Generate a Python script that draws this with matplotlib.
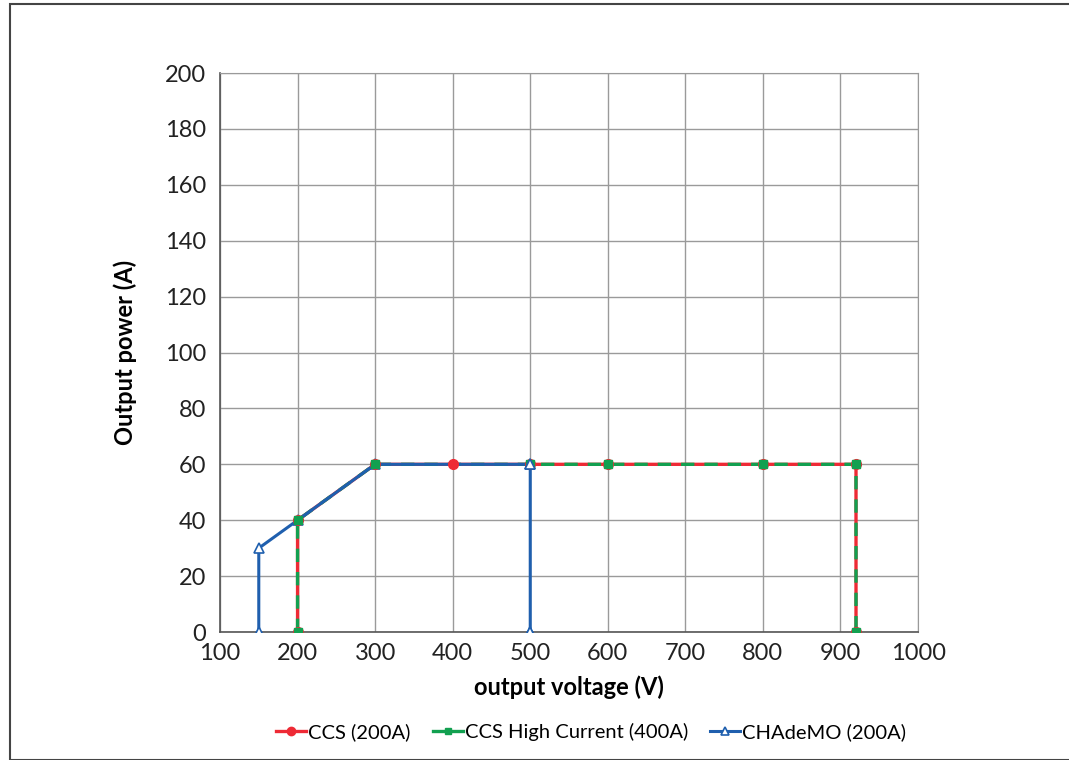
import matplotlib.pyplot as plt
from matplotlib.patches import Rectangle

plt.rcParams['font.family'] = ['Lato', 'DejaVu Sans']

# Данные
ccs_v = [200, 200, 300, 400, 500, 600, 800, 920, 920]
ccs_a = [0, 40, 60, 60, 60, 60, 60, 60, 0]
hc_v = [200, 200, 300, 500, 600, 800, 920, 920]
hc_a = [0, 40, 60, 60, 60, 60, 60, 0]
chademo_v = [150, 150, 200, 300, 500, 500]
chademo_a = [0, 30, 40, 60, 60, 0]

red = '#ee2a35'
green = '#12a050'
blue = '#1f5fae'

fig = plt.figure(figsize=(10.69, 7.6), dpi=100)
ax = fig.add_axes([0.2058, 0.1684, 0.653, 0.7355])

# линии
ax.plot(ccs_v, ccs_a, color=red, lw=2.4, zorder=3)
ax.plot(hc_v, hc_a, color=green, lw=2.4, ls=(0, (4, 3)), zorder=4)
ax.plot(chademo_v, chademo_a, color=blue, lw=2.2, zorder=5)
# маркеры
ax.plot(chademo_v, chademo_a, ls='none', marker='^', ms=7, mfc='white',
        mec=blue, mew=1.2, zorder=6)
ax.plot(ccs_v, ccs_a, ls='none', marker='o', ms=7, color=red, zorder=7)
ax.plot(hc_v, hc_a, ls='none', marker='s', ms=6, color=green, zorder=7)
ax.plot(chademo_v[-2:], chademo_a[-2:], ls='none', marker='^', ms=7, mfc='white',
        mec=blue, mew=1.2, zorder=8)

# для легенды
h1, = ax.plot([], [], color=red, lw=2.4, marker='o', ms=6)
h2, = ax.plot([], [], color=green, lw=2.4, marker='s', ms=5)
h3, = ax.plot([], [], color=blue, lw=2.2, marker='^', ms=6, mfc='white', mew=1.2)

ax.set_xlim(100, 1000)
ax.set_ylim(0, 200)
ax.set_xticks(range(100, 1001, 100))
ax.set_yticks(range(0, 201, 20))
ax.grid(True, color='#9a9a9a', lw=1)
ax.set_axisbelow(True)
for s in ['top', 'right']:
    ax.spines[s].set_color('#9a9a9a')
for s in ['left', 'bottom']:
    ax.spines[s].set_color('#555555')
    ax.spines[s].set_linewidth(1.2)
ax.tick_params(length=0, labelsize=17, colors='#222222')
ax.tick_params(axis='x', pad=8)
ax.tick_params(axis='y', pad=10)
ax.set_xlabel('output voltage (V)', fontsize=17, fontweight='bold', labelpad=8)
ax.set_ylabel('Output power (A)', fontsize=17, fontweight='bold', labelpad=20)

fig.legend([h1, h2, h3], ['CCS (200A)', 'CCS High Current (400A)', 'CHAdeMO (200A)'],
           loc='center', bbox_to_anchor=(0.553, 0.037), ncol=3, frameon=False,
           fontsize=14.5, handlelength=1.5, handletextpad=0.1, columnspacing=1.1)

fig.patches.append(Rectangle((10 / 1069, 0), 1.1, 1 - 4 / 760,
                             transform=fig.transFigure, fill=False,
                             ec='#444444', lw=1.5))

fig.savefig('out.png', dpi=100)
